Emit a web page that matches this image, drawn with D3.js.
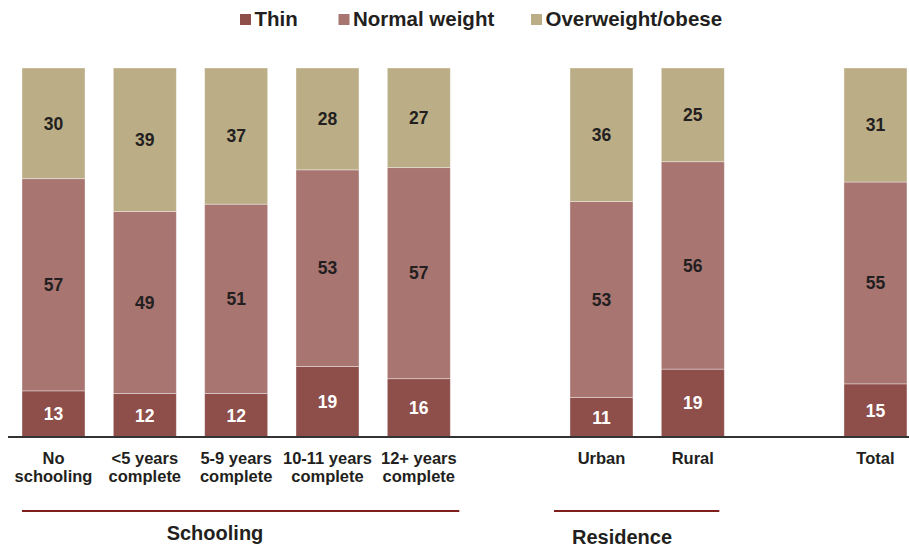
<!DOCTYPE html>
<html><head><meta charset="utf-8">
<script src="https://cdn.jsdelivr.net/npm/d3@7"></script>
<style>body{margin:0;background:#fff}svg{display:block;font-family:"Liberation Sans",Arial,sans-serif}</style>
</head><body><svg id="c" width="909" height="548"></svg>
<script>
// ---- data ----
const categories = [
  ["No","schooling"], ["<5 years","complete"], ["5-9 years","complete"],
  ["10-11 years","complete"], ["12+ years","complete"],
  ["Urban"], ["Rural"], ["Total"]
];
const groups = ["Schooling","Schooling","Schooling","Schooling","Schooling","Residence","Residence",""];
const seriesNames = ["Thin","Normal weight","Overweight/obese"];
// segment sizes (percent)
const thin       = [12.5, 11.8, 11.8, 19.1, 15.8, 10.7, 18.4, 14.4];
const normal     = [57.5, 49.3, 51.3, 53.3, 57.2, 53.1, 56.2, 54.7];
const overweight = [30.0, 38.9, 36.9, 27.6, 27.0, 36.2, 25.4, 30.9];
// printed labels
const thinLabels       = [13,12,12,19,16,11,19,15];
const normalLabels     = [57,49,51,53,57,53,56,55];
const overweightLabels = [30,39,37,28,27,36,25,31];
const colors = ["#8e4f4b","#a87571","#bbad86"];

// ---- build ----
const labelSets = [thinLabels, normalLabels, overweightLabels];
const rows = categories.map((c,i)=>({key:c.join(" "), idx:i, lines:c, group:groups[i],
  "Thin":thin[i], "Normal weight":normal[i], "Overweight/obese":overweight[i]}));
const slots=[]; rows.forEach((r,i)=>{ if(i>0 && r.group!==rows[i-1].group) slots.push("gap"+i); slots.push(r.key); });

const svg = d3.select("#c");
const step = 91.33, pin = 28.33/91.33;
const x = d3.scaleBand().domain(slots).range([22 - step*pin/2, 22 - step*pin/2 + step*slots.length])
  .paddingInner(pin).paddingOuter(pin/2);
const y = d3.scaleLinear().domain([0,1]).range([437,68]);
const layers = d3.stack().keys(seriesNames).offset(d3.stackOffsetExpand)(rows);
const textCol = "#231f20";

const g = svg.selectAll("g.layer").data(layers).join("g").attr("fill",(d,i)=>colors[i]);
g.selectAll("rect").data(d=>d).join("rect")
  .attr("x",d=>x(d.data.key)).attr("width",x.bandwidth())
  .attr("y",d=>y(d[1])).attr("height",d=>y(d[0])-y(d[1]))
  .attr("stroke","#fff").attr("stroke-opacity",0.45).attr("stroke-width",0.8);

layers.forEach((L,li)=>{
  svg.append("g").selectAll("text").data(L).join("text")
    .attr("x",d=>x(d.data.key)+x.bandwidth()/2)
    .attr("y",d=>(y(d[0])+y(d[1]))/2)
    .attr("dy","0.36em").attr("text-anchor","middle")
    .attr("font-size",17.5).attr("font-weight","bold")
    .attr("fill", li===0 ? "#fff" : textCol)
    .text(d=>labelSets[li][d.data.idx]);
});

// baseline
svg.append("line").attr("x1",8).attr("x2",909).attr("y1",y(0)).attr("y2",y(0))
  .attr("stroke","#333").attr("stroke-width",2);

// category labels
rows.forEach(r=>{
  const t = svg.append("text").attr("text-anchor","middle").attr("font-size",16.5)
    .attr("font-weight","bold").attr("fill",textCol);
  r.lines.forEach((l,k)=>t.append("tspan").attr("x",x(r.key)+x.bandwidth()/2).attr("y",464+k*17.5).text(l));
});

// group brackets
const grpSpecs = [
  {name:"Schooling", padL:0, padR:9, tx:215, ty:539.5},
  {name:"Residence", padL:-16, padR:-5, tx:622, ty:544}
];
grpSpecs.forEach(s=>{
  const members = rows.filter(r=>r.group===s.name);
  const x1 = x(members[0].key)+s.padL;
  const x2 = x(members[members.length-1].key)+x.bandwidth()+s.padR;
  svg.append("line").attr("x1",x1).attr("x2",x2).attr("y1",511).attr("y2",511)
    .attr("stroke","#7f1f1c").attr("stroke-width",2);
  svg.append("text").attr("x",s.tx).attr("y",s.ty).attr("text-anchor","middle")
    .attr("font-size",20).attr("font-weight","bold").attr("fill",textCol).text(s.name);
});

// legend
const legX = [240,338.5,531];
seriesNames.forEach((n,i)=>{
  svg.append("rect").attr("x",legX[i]).attr("y",14).attr("width",11).attr("height",11).attr("fill",colors[i]);
  svg.append("text").attr("x",legX[i]+14.5).attr("y",25.7).attr("font-size",20.5)
    .attr("font-weight","bold").attr("fill",textCol).text(n);
});
</script></body></html>
